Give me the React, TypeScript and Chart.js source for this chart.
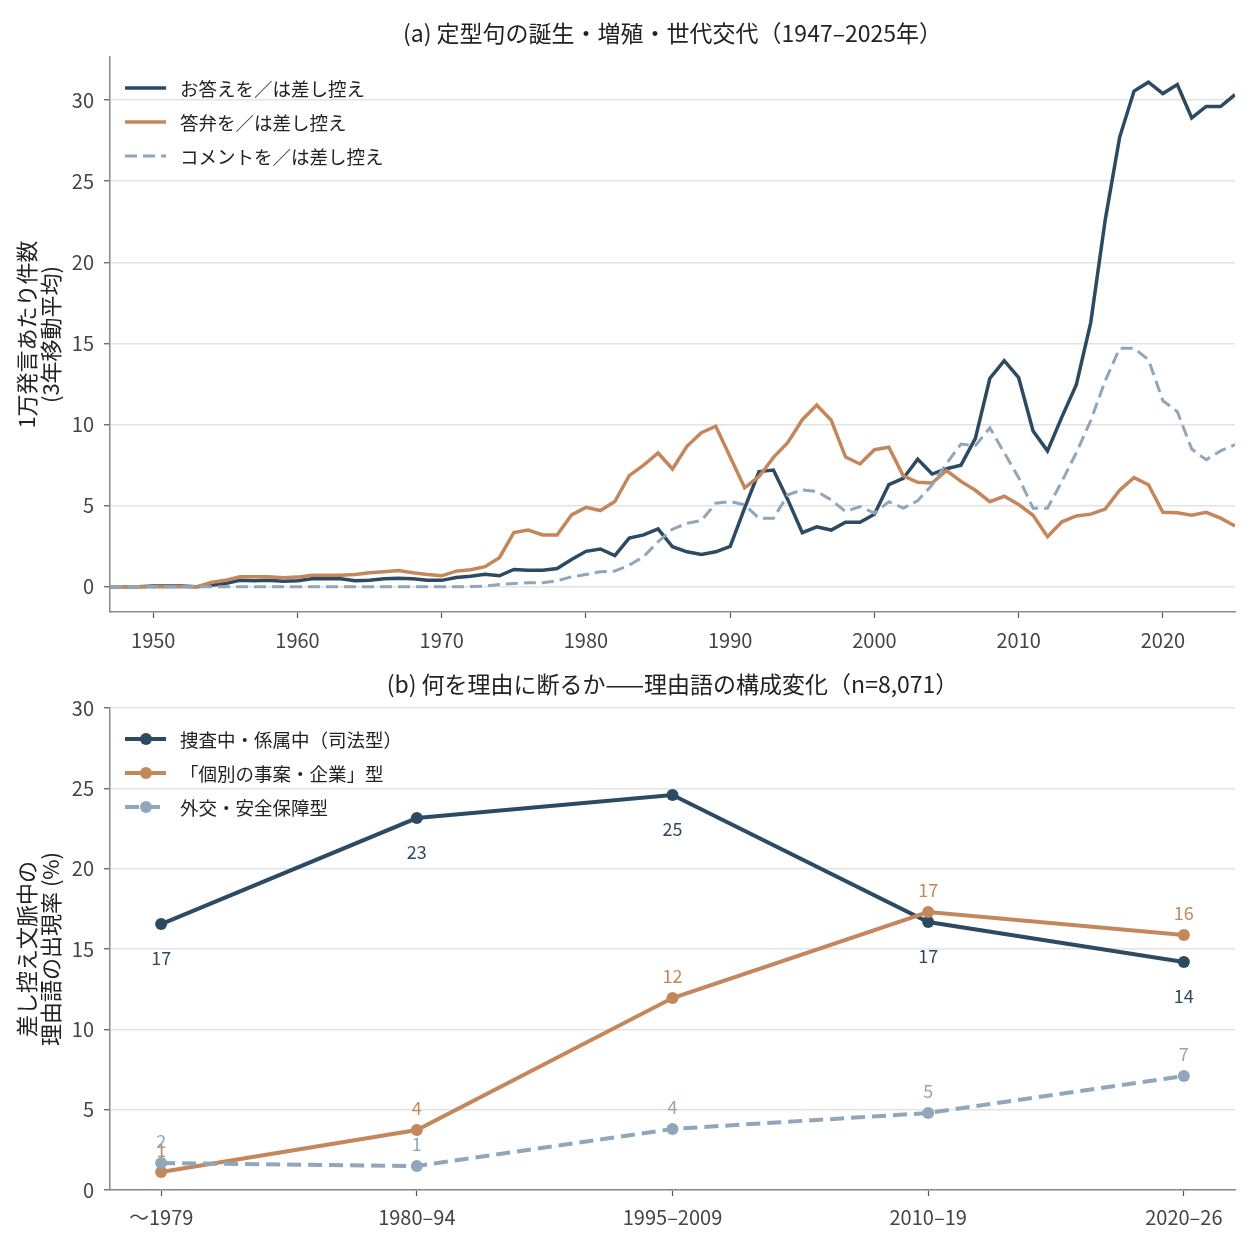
import { useEffect, useRef } from 'react';
import { Chart, registerables } from 'chart.js';

Chart.register(...registerables);

const FONT = '"Noto Sans CJK JP", "Noto Sans", sans-serif';

const DARK = '#2d4a63';
const ORANGE = '#c4875c';
const SLATE = '#8fa6bb';

// (a) yearly series, 1947–2025, 3-year moving average per 10,000 utterances
const years = [
  1947, 1948, 1949,
  1950, 1951, 1952, 1953, 1954, 1955, 1956, 1957, 1958, 1959,
  1960, 1961, 1962, 1963, 1964, 1965, 1966, 1967, 1968, 1969,
  1970, 1971, 1972, 1973, 1974, 1975, 1976, 1977, 1978, 1979,
  1980, 1981, 1982, 1983, 1984, 1985, 1986, 1987, 1988, 1989,
  1990, 1991, 1992, 1993, 1994, 1995, 1996, 1997, 1998, 1999,
  2000, 2001, 2002, 2003, 2004, 2005, 2006, 2007, 2008, 2009,
  2010, 2011, 2012, 2013, 2014, 2015, 2016, 2017, 2018, 2019,
  2020, 2021, 2022, 2023, 2024, 2025,
];

const okotaeSeries = [
  0, 0, 0,
  0.05, 0.05, 0.05, 0, 0.1, 0.2, 0.4, 0.37, 0.4, 0.35,
  0.37, 0.5, 0.5, 0.5, 0.37, 0.4, 0.5, 0.53, 0.5, 0.4,
  0.4, 0.58, 0.66, 0.78, 0.68, 1.07, 1.03, 1.03, 1.13, 1.69,
  2.19, 2.33, 1.92, 3.0, 3.2, 3.57, 2.47, 2.16, 2.0, 2.16,
  2.5, 4.85, 7.1, 7.2, 5.36, 3.34, 3.7, 3.5, 3.98, 3.98,
  4.47, 6.3, 6.68, 7.87, 6.95, 7.28, 7.5, 9.15, 12.84, 13.94,
  12.9, 9.6, 8.38, 10.47, 12.46, 16.3, 22.6, 27.7, 30.55, 31.1,
  30.4, 30.95, 28.9, 29.6, 29.6, 30.33,
];

const toubenSeries = [
  0, 0, 0,
  0, 0, 0, 0, 0.27, 0.4, 0.62, 0.62, 0.62, 0.56,
  0.6, 0.72, 0.72, 0.72, 0.76, 0.87, 0.93, 1.0, 0.87, 0.76,
  0.68, 0.97, 1.05, 1.24, 1.8, 3.34, 3.5, 3.2, 3.2, 4.43,
  4.9, 4.7, 5.26, 6.85, 7.5, 8.25, 7.26, 8.66, 9.5, 9.9,
  8.0, 6.1, 6.8, 7.98, 8.9, 10.3, 11.2, 10.27, 8.0, 7.57,
  8.45, 8.6, 6.84, 6.44, 6.4, 7.17, 6.5, 5.95, 5.25, 5.58,
  5.07, 4.41, 3.09, 4.01, 4.37, 4.48, 4.79, 5.95, 6.73, 6.29,
  4.59, 4.56, 4.41, 4.59, 4.23, 3.75,
];

const commentSeries = [
  0, 0, 0,
  0, 0, 0, 0, 0, 0, 0, 0, 0, 0,
  0, 0, 0, 0, 0, 0, 0, 0, 0, 0,
  0, 0, 0.02, 0.05, 0.15, 0.2, 0.25, 0.25, 0.37, 0.62,
  0.76, 0.93, 0.97, 1.34, 1.86, 2.78, 3.55, 3.92, 4.08, 5.15,
  5.26, 5.05, 4.23, 4.23, 5.67, 5.98, 5.88, 5.36, 4.64, 4.95,
  4.54, 5.25, 4.85, 5.3, 6.29, 7.6, 8.8, 8.7, 9.8, 8.27,
  6.73, 4.85, 4.85, 6.5, 8.27, 10.25, 12.7, 14.7, 14.7, 14.0,
  11.47, 10.8, 8.49, 7.83, 8.38, 8.76,
];

const yearTicks = [1950, 1960, 1970, 1980, 1990, 2000, 2010, 2020];
const countTicks = [0, 5, 10, 15, 20, 25, 30];

// (b) share of reason words by period (%)
const periods = ['〜1979', '1980–94', '1995–2009', '2010–19', '2020–26'];
const judicialShare = [16.55, 23.15, 24.58, 16.68, 14.19];
const caseShare = [1.12, 3.73, 11.95, 17.3, 15.87];
const securityShare = [1.68, 1.49, 3.8, 4.79, 7.09];
const shareTicks = [0, 5, 10, 15, 20, 25, 30];

// title centred over the plot area (not the whole canvas)
const plotTitle = (text: string) => ({
  id: 'plotTitle',
  afterDraw(chart: any) {
    const { ctx, chartArea } = chart;
    ctx.save();
    ctx.font = `23px ${FONT}`;
    ctx.fillStyle = '#222';
    ctx.textAlign = 'center';
    ctx.textBaseline = 'middle';
    ctx.fillText(text, (chartArea.left + chartArea.right) / 2, chartArea.top - 24);
    ctx.restore();
  },
});

// legend drawn inside the plot, top-left
const insideLegend = (markers: boolean) => ({
  id: 'insideLegend',
  afterDraw(chart: any) {
    const { ctx, chartArea } = chart;
    ctx.save();
    ctx.font = `18.5px ${FONT}`;
    ctx.textBaseline = 'middle';
    ctx.textAlign = 'left';
    chart.data.datasets.forEach((ds: any, i: number) => {
      const y = chartArea.top + 31 + i * 34;
      const x0 = chartArea.left + 15;
      ctx.strokeStyle = ds.borderColor;
      ctx.lineWidth = ds.borderWidth;
      ctx.setLineDash(ds.borderDash || []);
      ctx.beginPath();
      ctx.moveTo(x0, y);
      ctx.lineTo(x0 + 41, y);
      ctx.stroke();
      ctx.setLineDash([]);
      if (markers) {
        ctx.fillStyle = ds.borderColor;
        ctx.beginPath();
        ctx.arc(x0 + 21, y, 6, 0, Math.PI * 2);
        ctx.fill();
      }
      ctx.fillStyle = '#222';
      ctx.fillText(ds.label, x0 + 55, y + 1);
    });
    ctx.restore();
  },
});

// value labels: dark series below the point, the others above
const labelOffsets = [34, -22, -22];
const pointLabels = {
  id: 'pointLabels',
  afterDatasetsDraw(chart: any) {
    const { ctx } = chart;
    ctx.save();
    ctx.font = `18px ${FONT}`;
    ctx.textAlign = 'center';
    ctx.textBaseline = 'middle';
    chart.data.datasets.forEach((ds: any, i: number) => {
      const meta = chart.getDatasetMeta(i);
      ctx.fillStyle = ds.borderColor;
      meta.data.forEach((pt: any, j: number) => {
        ctx.fillText(String(Math.round(ds.data[j].y)), pt.x, pt.y + labelOffsets[i]);
      });
    });
    ctx.restore();
  },
};

const tickFont = { family: FONT, size: 20 };
const axisTitleFont = { family: FONT, size: 22, lineHeight: 1.08 };

function TrendChart() {
  const chartRef = useRef<HTMLCanvasElement>(null);
  const chartInstance = useRef<Chart | null>(null);

  useEffect(() => {
    if (!chartRef.current) return;
    if (chartInstance.current) chartInstance.current.destroy();
    const ctx = chartRef.current.getContext('2d');
    if (!ctx) return;

    const pts = (vals: number[]) => years.map((yr, i) => ({ x: yr, y: vals[i] }));

    chartInstance.current = new Chart(ctx, {
      type: 'line',
      data: {
        datasets: [
          { label: 'お答えを／は差し控え', data: pts(okotaeSeries), borderColor: DARK, borderWidth: 3.5, pointRadius: 0, order: 3 },
          { label: '答弁を／は差し控え', data: pts(toubenSeries), borderColor: ORANGE, borderWidth: 3.5, pointRadius: 0, order: 2 },
          { label: 'コメントを／は差し控え', data: pts(commentSeries), borderColor: SLATE, borderWidth: 3, borderDash: [12, 6], pointRadius: 0, order: 1 },
        ],
      },
      options: {
        animation: false,
        responsive: true,
        maintainAspectRatio: false,
        layout: { padding: { left: 0, right: 17, top: 57, bottom: 0 } },
        plugins: {
          legend: { display: false },
          tooltip: { enabled: false },
          title: { display: false },
        },
        scales: {
          x: {
            type: 'linear',
            min: 1947,
            max: 2025,
            afterBuildTicks: (axis: any) => { axis.ticks = yearTicks.map(v => ({ value: v })); },
            afterFit: (scale: any) => { scale.height = 43; },
            grid: { drawOnChartArea: false, tickLength: 6, tickColor: '#555', tickWidth: 1.2 },
            border: { color: '#8a8a8a', width: 1.5 },
            ticks: { color: '#444', font: tickFont, padding: 10, callback: (v: any) => String(v), maxRotation: 0 },
          },
          y: {
            min: -1.55,
            max: 32.65,
            afterBuildTicks: (axis: any) => { axis.ticks = countTicks.map(v => ({ value: v })); },
            afterFit: (scale: any) => { scale.width = 110; },
            grid: { color: '#e3e3e3', lineWidth: 1.5, tickLength: 6, tickColor: '#555', tickWidth: 1.2 },
            border: { color: '#8a8a8a', width: 1.5 },
            ticks: { color: '#444', font: tickFont, padding: 10 },
            title: {
              display: true,
              text: ['1万発言あたり件数', '(3年移動平均)'],
              color: '#222',
              font: axisTitleFont,
              padding: { top: 15, bottom: 0 },
            },
          },
        },
      },
      plugins: [plotTitle('(a) 定型句の誕生・増殖・世代交代（1947–2025年）'), insideLegend(false)],
    } as any);

    return () => {
      if (chartInstance.current) chartInstance.current.destroy();
    };
  }, []);

  return (
    <div style={{ position: 'relative', width: 1252, height: 655 }}>
      <canvas ref={chartRef} />
    </div>
  );
}

function ReasonChart() {
  const chartRef = useRef<HTMLCanvasElement>(null);
  const chartInstance = useRef<Chart | null>(null);

  useEffect(() => {
    if (!chartRef.current) return;
    if (chartInstance.current) chartInstance.current.destroy();
    const ctx = chartRef.current.getContext('2d');
    if (!ctx) return;

    const pts = (vals: number[]) => periods.map((_, i) => ({ x: i, y: vals[i] }));

    chartInstance.current = new Chart(ctx, {
      type: 'line',
      data: {
        datasets: [
          { label: '捜査中・係属中（司法型）', data: pts(judicialShare), borderColor: DARK, backgroundColor: DARK, borderWidth: 4, pointRadius: 6, pointBorderWidth: 0, order: 3 },
          { label: '「個別の事案・企業」型', data: pts(caseShare), borderColor: ORANGE, backgroundColor: ORANGE, borderWidth: 4, pointRadius: 6, pointBorderWidth: 0, order: 2 },
          { label: '外交・安全保障型', data: pts(securityShare), borderColor: SLATE, backgroundColor: SLATE, borderWidth: 4, borderDash: [14, 7], pointRadius: 6, pointBorderWidth: 0, order: 1 },
        ],
      },
      options: {
        animation: false,
        responsive: true,
        maintainAspectRatio: false,
        layout: { padding: { left: 0, right: 17, top: 53, bottom: 0 } },
        plugins: {
          legend: { display: false },
          tooltip: { enabled: false },
          title: { display: false },
        },
        scales: {
          x: {
            type: 'linear',
            min: -0.2,
            max: 4.2,
            afterBuildTicks: (axis: any) => { axis.ticks = periods.map((_, i) => ({ value: i })); },
            afterFit: (scale: any) => { scale.height = 62; },
            grid: { drawOnChartArea: false, tickLength: 6, tickColor: '#555', tickWidth: 1.2 },
            border: { color: '#8a8a8a', width: 1.5 },
            ticks: { color: '#444', font: tickFont, padding: 9, maxRotation: 0, callback: (v: any) => periods[v] ?? '' },
          },
          y: {
            min: 0,
            max: 30,
            afterBuildTicks: (axis: any) => { axis.ticks = shareTicks.map(v => ({ value: v })); },
            afterFit: (scale: any) => { scale.width = 110; },
            grid: { color: '#e3e3e3', lineWidth: 1.5, tickLength: 6, tickColor: '#555', tickWidth: 1.2 },
            border: { color: '#8a8a8a', width: 1.5 },
            ticks: { color: '#444', font: tickFont, padding: 10 },
            title: {
              display: true,
              text: ['差し控え文脈中の', '理由語の出現率 (%)'],
              color: '#222',
              font: axisTitleFont,
              padding: { top: 15, bottom: 0 },
            },
          },
        },
      },
      plugins: [plotTitle('(b) 何を理由に断るか——理由語の構成変化（n=8,071）'), insideLegend(true), pointLabels],
    } as any);

    return () => {
      if (chartInstance.current) chartInstance.current.destroy();
    };
  }, []);

  return (
    <div style={{ position: 'relative', width: 1252, height: 597 }}>
      <canvas ref={chartRef} />
    </div>
  );
}

export default function App() {
  return (
    <div style={{ position: 'absolute', left: 0, top: 0, width: 1252, height: 1252, background: '#fff' }}>
      <TrendChart />
      <ReasonChart />
    </div>
  );
}
